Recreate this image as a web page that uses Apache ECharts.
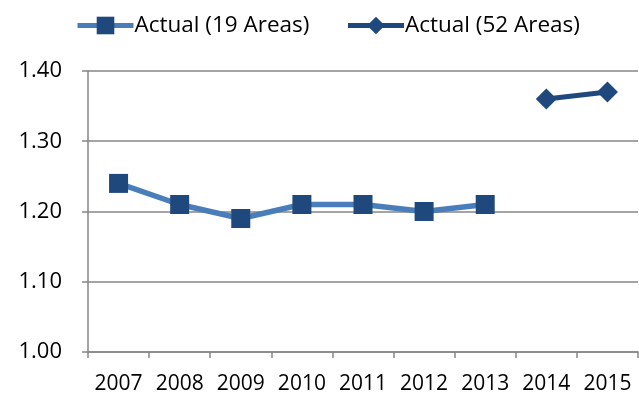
<!DOCTYPE html>
<html><head><meta charset="utf-8">
<script src="https://cdn.jsdelivr.net/npm/echarts@6/dist/echarts.min.js"></script>
<style>html,body{margin:0;padding:0;background:#fff}#c{width:639px;height:403px}</style>
</head><body><div id="c"></div>
<script>
const categories = ['2007','2008','2009','2010','2011','2012','2013','2014','2015'];
const actual19 = [1.24, 1.21, 1.19, 1.21, 1.21, 1.20, 1.21, null, null];
const actual52 = [null, null, null, null, null, null, null, 1.36, 1.37];
const seriesNames = ['Actual (19 Areas)', 'Actual (52 Areas)'];

const chart = echarts.init(document.getElementById('c'));
const font = '"Open Sans", "Liberation Sans", sans-serif';
chart.setOption({
  animation: false,
  textStyle: {fontFamily: font},
  legend: {
    top: 9, left: 70, itemGap: 36, itemWidth: 56, itemHeight: 22,
    lineStyle: {width: 5},
    textStyle: {fontSize: 22.5, color: '#000', fontFamily: font, padding: [0,0,0,-4]},
    data: seriesNames
  },
  grid: {left: 88, right: 1, top: 71, bottom: 51, containLabel: false},
  xAxis: {
    type: 'category', data: categories, boundaryGap: true,
    axisLine: {lineStyle: {color: '#868686', width: 1.5}},
    axisTick: {show: true, interval: 0, length: 6, lineStyle: {color: '#868686', width: 1.5}},
    axisLabel: {interval: 0, color: '#000', fontSize: 21, margin: 22, fontFamily: font}
  },
  yAxis: {
    type: 'value', min: 1.0, max: 1.4, interval: 0.1,
    axisLine: {show: true, lineStyle: {color: '#868686', width: 1.5}},
    axisTick: {show: true, length: 6, lineStyle: {color: '#868686', width: 1.5}},
    splitLine: {lineStyle: {color: '#868686', width: 1.5}},
    axisLabel: {color: '#000', fontSize: 22, margin: 26, fontFamily: font,
      formatter: v => v.toFixed(2)}
  },
  series: [
    {name: seriesNames[0], type: 'line', data: actual19, connectNulls: false,
     symbol: 'rect', symbolSize: 19,
     lineStyle: {color: '#4A7EBB', width: 5.5},
     itemStyle: {color: '#1F497D', borderWidth: 0}},
    {name: seriesNames[1], type: 'line', data: actual52,
     symbol: 'diamond', symbolSize: 21,
     lineStyle: {color: '#1F497D', width: 5},
     itemStyle: {color: '#1F497D', borderWidth: 0}}
  ]
});
</script></body></html>
